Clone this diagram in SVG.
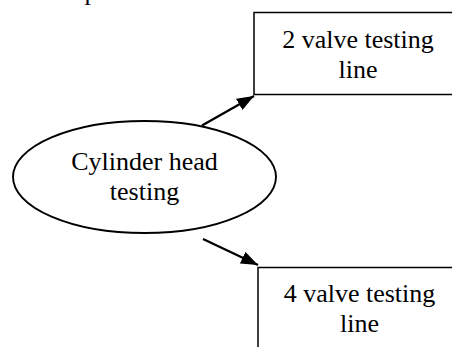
<svg xmlns="http://www.w3.org/2000/svg" width="452" height="347" viewBox="0 0 452 347">
  <style>
    .lbl { font-family: "Liberation Serif", "Times New Roman", serif; font-size: 26px; fill: #000; text-anchor: middle; }
    .box { fill: #fff; stroke: #000; stroke-width: 1.5; }
    .oval { fill: #fff; stroke: #000; stroke-width: 1.9; }
    .conn { stroke: #000; stroke-width: 2.3; fill: none; }
  </style>
  <defs>
    <marker id="arrow" viewBox="0 0 17 13" refX="17" refY="6.5" markerWidth="17" markerHeight="13" markerUnits="userSpaceOnUse" orient="auto">
      <path d="M0,0 L17,6.5 L0,13 Z" fill="#000"/>
    </marker>
  </defs>

  <rect width="452" height="347" fill="#fff"/>

  <!-- descender of a letter from the line above -->
  <text class="lbl" x="91" y="0">p</text>

  <g id="connectors">
    <line class="conn" x1="202" y1="125.5" x2="254" y2="96" marker-end="url(#arrow)"/>
    <line class="conn" x1="203" y1="239" x2="258" y2="265" marker-end="url(#arrow)"/>
  </g>

  <g id="cylinder-head">
    <ellipse class="oval" cx="144.5" cy="177" rx="131.5" ry="56"/>
    <text class="lbl" x="144.5" y="170">Cylinder head</text>
    <text class="lbl" x="144.5" y="200">testing</text>
  </g>

  <g id="two-valve">
    <rect class="box" x="254" y="12.5" width="230" height="82"/>
    <text class="lbl" x="358" y="48">2 valve testing</text>
    <text class="lbl" x="358" y="78">line</text>
  </g>

  <g id="four-valve">
    <rect class="box" x="258" y="267.5" width="230" height="110"/>
    <text class="lbl" x="359.5" y="302">4 valve testing</text>
    <text class="lbl" x="359.5" y="332">line</text>
  </g>
</svg>
